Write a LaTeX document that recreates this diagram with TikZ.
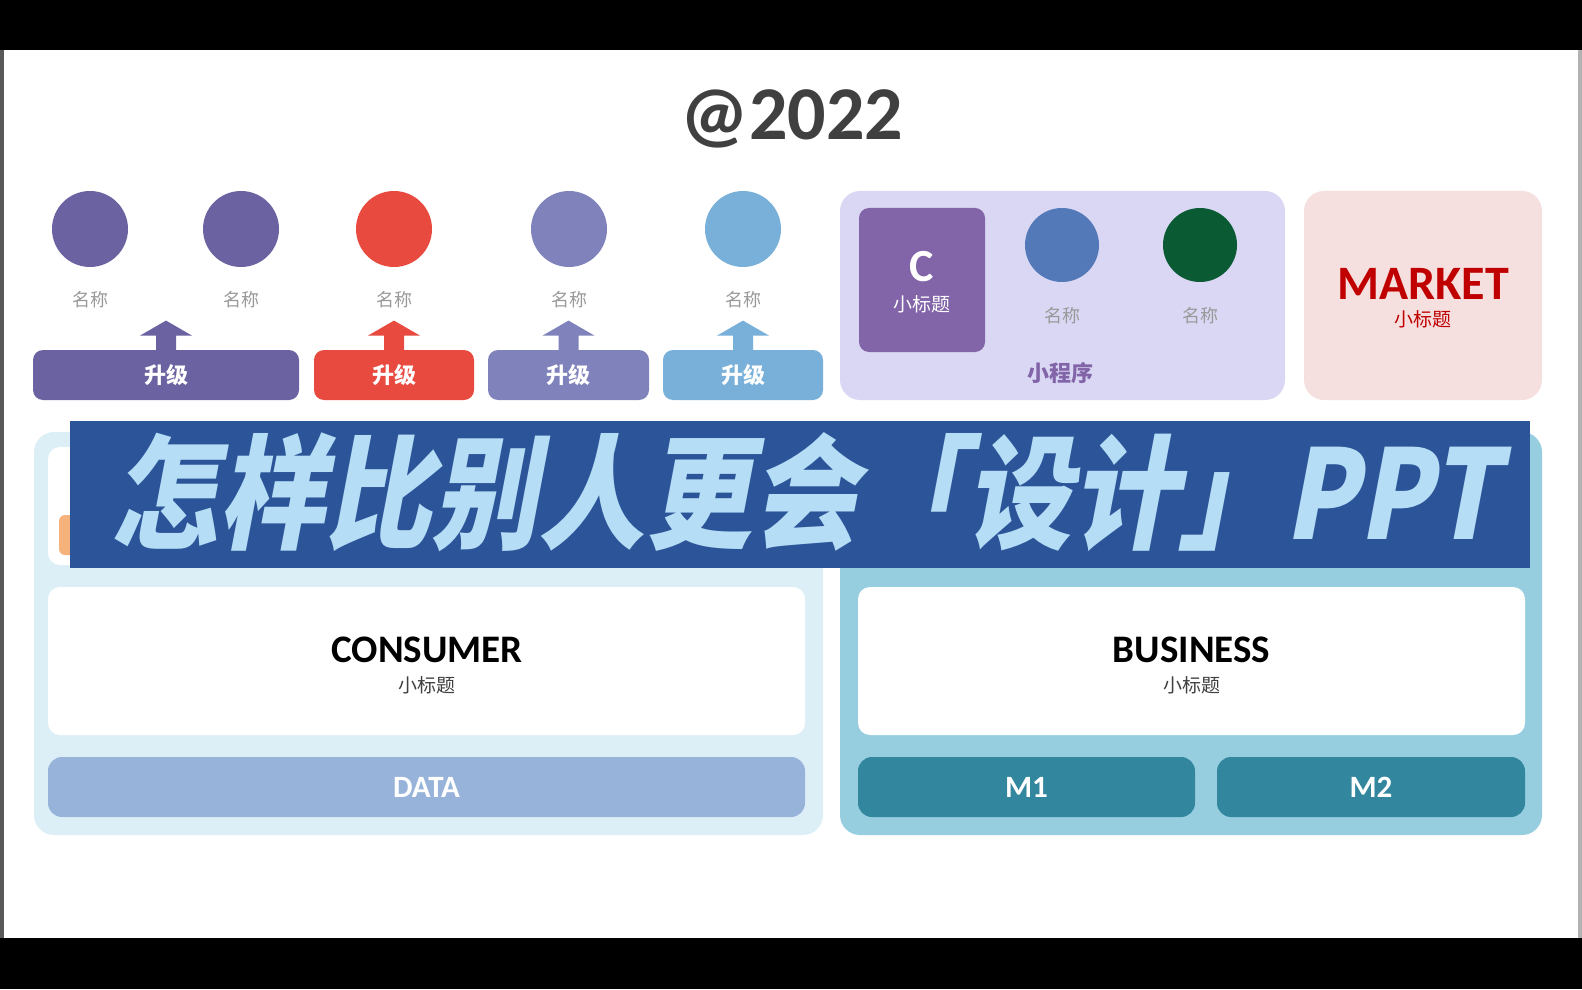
\documentclass[tikz,border=0pt]{standalone}
\usepackage{fontspec}
\usepackage{graphicx}
\setmainfont{Carlito}
\newfontfamily\cjk{Noto Sans CJK SC}
\newfontfamily\bannerfont{Noto Sans CJK SC}[FakeSlant=0.22]
\definecolor{cpurple}{HTML}{6B63A1}
\definecolor{cred}{HTML}{E84A40}
\definecolor{cviolet}{HTML}{8083BB}
\definecolor{csky}{HTML}{78B0D9}
\definecolor{lavender}{HTML}{D9D7F3}
\definecolor{cbox}{HTML}{8264A8}
\definecolor{cblue}{HTML}{5479B8}
\definecolor{cgreen}{HTML}{0A5A34}
\definecolor{pinkbg}{HTML}{F6DFDF}
\definecolor{darkred}{HTML}{C00000}
\definecolor{lightpanel}{HTML}{DDEFF6}
\definecolor{tealpanel}{HTML}{96CEE0}
\definecolor{databar}{HTML}{97B3D9}
\definecolor{teal}{HTML}{32869E}
\definecolor{bannerbg}{HTML}{2C5499}
\definecolor{bannertext}{HTML}{B5DDF5}
\definecolor{gtext}{HTML}{999999}
\definecolor{dtext}{HTML}{404040}
\definecolor{corange}{HTML}{F5B27A}
\begin{document}
\begin{tikzpicture}[x=0.5pt,y=-0.5pt,
  dot/.style={circle,inner sep=0pt,minimum size=38pt},
  lbl/.style={font=\cjk\fontsize{9}{10}\selectfont,text=gtext},
  upbar/.style={rounded corners=5pt,inner sep=0pt,minimum height=25pt,text=white,font=\cjk\bfseries\fontsize{11}{12}\selectfont},
  panel/.style={rounded corners=10pt,inner sep=0pt},
  whitebox/.style={fill=white,rounded corners=6pt,inner sep=0pt,minimum height=74pt},
  lowbar/.style={rounded corners=7pt,inner sep=0pt,minimum height=30pt,text=white,font=\bfseries\fontsize{15.5}{16}\selectfont},
  big/.style={font=\bfseries\fontsize{19.5}{20}\selectfont},
  sub/.style={font=\cjk\fontsize{9.5}{10}\selectfont,text=dtext}]
% background
\fill[black] (0,0) rectangle (1582,989);
\fill[gray!70!black] (0,50) rectangle (4,938);
\fill[gray!60] (1578,50) rectangle (1582,938);
\fill[white] (4,50) rectangle (1578,938);
\useasboundingbox (0,0) rectangle (1582,989);
% title
\node[font=\bfseries\fontsize{38}{39}\selectfont,text=dtext] (title) at (792,119) {@2022};
% top circles
\node[dot,fill=cpurple] (c1) at (90,229) {};
\node[dot,fill=cpurple] (c2) at (241,229) {};
\node[dot,fill=cred] (c3) at (394,229) {};
\node[dot,fill=cviolet] (c4) at (569,229) {};
\node[dot,fill=csky] (c5) at (743,229) {};
\node[lbl] (l1) at (90,300) {名称};
\node[lbl] (l2) at (241,300) {名称};
\node[lbl] (l3) at (394,300) {名称};
\node[lbl] (l4) at (569,300) {名称};
\node[lbl] (l5) at (743,300) {名称};
% bars
\node[upbar,fill=cpurple,minimum width=133pt] (b1) at (166,375) {升级};
\node[upbar,fill=cred,minimum width=80pt] (b2) at (394,375) {升级};
\node[upbar,fill=cviolet,minimum width=80.5pt] (b3) at (568.5,375) {升级};
\node[upbar,fill=csky,minimum width=80pt] (b4) at (743,375) {升级};
\foreach \b/\c in {b1/cpurple,b2/cred,b3/cviolet,b4/csky}{
  \fill[\c] (\b.north) ++(-10,1) -- ++(0,-15) -- ++(-16,0) -- ++(26,-15) -- ++(26,15) -- ++(-16,0) -- ++(0,15) -- cycle;
}
% mini program box
\node[panel,fill=lavender,minimum width=222.5pt,minimum height=104.5pt] (mini) at (1062.5,295.5) {};
\node[fill=cbox,rounded corners=5pt,inner sep=0pt,minimum width=63pt,minimum height=72pt] (cbx) at (922,280) {};
\node[text=white,font=\bfseries\fontsize{23}{24}\selectfont] (ct) at (922,267) {C};
\node[text=white,font=\cjk\fontsize{9.5}{10}\selectfont] (cs) at (922,304) {小标题};
\node[dot,fill=cblue,minimum size=37pt] (c6) at (1062,245) {};
\node[dot,fill=cgreen,minimum size=37pt] (c7) at (1200,245) {};
\node[lbl] (l6) at (1062,316) {名称};
\node[lbl] (l7) at (1200,316) {名称};
\node[text=cbox,font=\cjk\bfseries\fontsize{11}{12}\selectfont] (mp) at (1060,373) {小程序};
% market
\node[panel,fill=pinkbg,minimum width=119pt,minimum height=104.5pt] (mk) at (1423,295.5) {};
\node[text=darkred,font=\bfseries\fontsize{24}{25}\selectfont] (mkt) at (1423,284) {MARKET};
\node[text=darkred,font=\cjk\fontsize{9.5}{10}\selectfont] (mks) at (1423,319) {小标题};
% lower panels
\node[panel,fill=lightpanel,minimum width=394.5pt,minimum height=201.5pt] (lp) at (428.5,633.5) {};
\node[panel,fill=tealpanel,minimum width=351pt,minimum height=201.5pt] (rp) at (1191,633.5) {};
\node[whitebox,minimum width=378.5pt,minimum height=59pt] (topbox) at (426.5,506) {};
\node[fill=corange,rounded corners=3pt,inner sep=0pt,minimum width=16pt,minimum height=20pt] (orng) at (75,535) {};
\node[whitebox,minimum width=378.5pt] (cons) at (426.5,661) {};
\node[big] (ct1) at (427,650) {CONSUMER};
\node[sub] (cs1) at (427,685) {小标题};
\node[lowbar,fill=databar,minimum width=378.5pt] (data) at (426.5,787) {DATA};
\node[whitebox,minimum width=333.5pt] (bus) at (1191.5,661) {};
\node[big] (bt1) at (1191.5,650) {BUSINESS};
\node[sub] (bs1) at (1191.5,685) {小标题};
\node[lowbar,fill=teal,minimum width=168.5pt] (m1) at (1026.5,787) {M1};
\node[lowbar,fill=teal,minimum width=154pt] (m2) at (1371,787) {M2};
% banner
\node[fill=bannerbg,inner sep=0pt,minimum width=730pt,minimum height=73.5pt] (banner) at (800,494.5) {};
\node[text=bannertext,inner sep=0pt] (btext) at (805,492) {\scalebox{0.86}[1]{\bannerfont\bfseries\fontsize{62}{62}\selectfont 怎样比别人更会「设计」PPT}};
\end{tikzpicture}
\end{document}
